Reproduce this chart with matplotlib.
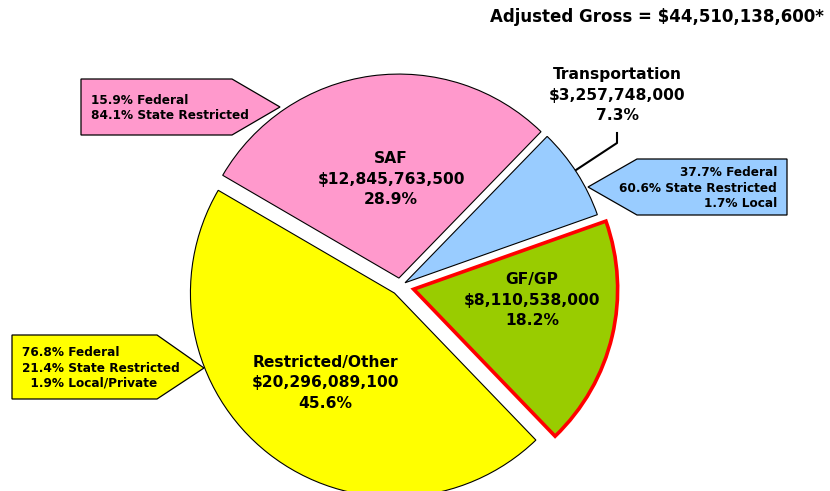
import matplotlib
matplotlib.use("Agg")
import matplotlib.pyplot as plt
from matplotlib.patches import Polygon

# Funds (order = drawing order, clockwise from ~20 degrees)
names = ["GF/GP", "Restricted/Other", "SAF", "Transportation"]
amounts = [8110538000, 20296089100, 12845763500, 3257748000]
colors = ["#99CC00", "#FFFF00", "#FF99CC", "#99CCFF"]

# Source breakdown callouts
saf_split = ["15.9% Federal", "84.1% State Restricted"]
restricted_split = ["76.8% Federal", "21.4% State Restricted", "  1.9% Local/Private"]
transport_split = ["37.7% Federal", "60.6% State Restricted", "1.7% Local"]

W, H = 830, 491
total = sum(amounts)


def P(x, y):
    # pixel coords (origin top-left) -> data coords
    return (x, H - y)


fig = plt.figure(figsize=(8.3, 4.91), dpi=100)
ax = fig.add_axes([0, 0, 1, 1])

# explode is in data units here (pixels), pie doesn't scale it by radius
wedges, _ = ax.pie(amounts, explode=[14, 9, 8, 6], colors=colors, startangle=19.5,
                   counterclock=False, radius=204, center=P(400, 286),
                   wedgeprops=dict(edgecolor="black", linewidth=0.8))
wedges[0].set_edgecolor("red")
wedges[0].set_linewidth(2.6)
wedges[0].set_zorder(5)

ax.set_xlim(0, W)
ax.set_ylim(0, H)
ax.set_aspect("equal")
ax.axis("off")

font = dict(fontfamily="DejaVu Sans", fontweight="bold", color="black")

# slice labels
label_pos = [(532, 300), (325, 383), (391, 179), (617, 95)]
for name, amt, (x, y) in zip(names, amounts, label_pos):
    txt = f"{name}\n${amt:,.0f}\n{amt / total * 100:.1f}%"
    ax.text(*P(x, y), txt, ha="center", va="center", fontsize=11.2,
            linespacing=1.42, zorder=10, **font)

# leader line for Transportation
lx, ly = zip(P(617, 133), P(617, 143), P(576, 170))
ax.plot(lx, ly, color="black", linewidth=1.5, zorder=10)

# title
ax.text(*P(657, 17), "Adjusted Gross = $44,510,138,600*", ha="center",
        va="center", fontsize=12, **font)

# callout boxes
pink_box = [(81, 79), (232, 79), (280, 107), (232, 135), (81, 135)]
yellow_box = [(12, 335), (157, 335), (204, 368), (157, 399), (12, 399)]
blue_box = [(588, 187), (637, 159), (787, 159), (787, 215), (637, 215)]
for pts, fc in [(pink_box, "#FF99CC"), (yellow_box, "#FFFF00"), (blue_box, "#99CCFF")]:
    ax.add_patch(Polygon([P(x, y) for x, y in pts], closed=True, facecolor=fc,
                         edgecolor="black", linewidth=0.9, zorder=6))

ax.text(*P(91, 108), "\n".join(saf_split), ha="left", va="center",
        fontsize=8.7, linespacing=1.22, zorder=10, **font)
ax.text(*P(22, 368), "\n".join(restricted_split), ha="left", va="center",
        fontsize=8.7, linespacing=1.22, zorder=10, **font)
ax.text(*P(777, 188), "\n".join(transport_split), ha="right", va="center",
        fontsize=8.7, linespacing=1.22, zorder=10, **font)

fig.savefig("out.png", dpi=100)
